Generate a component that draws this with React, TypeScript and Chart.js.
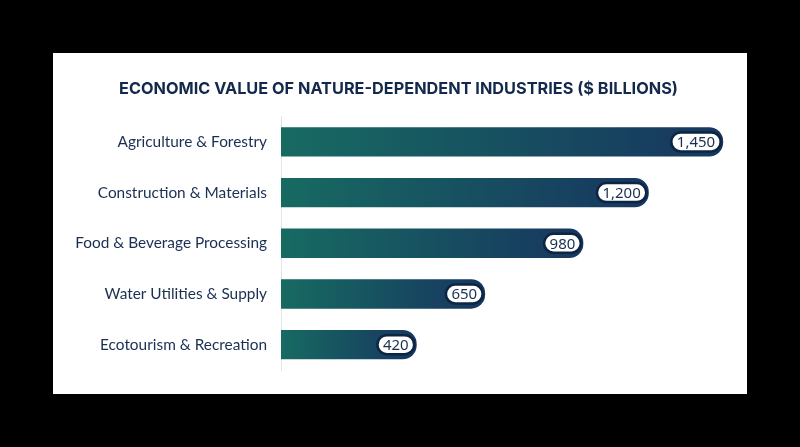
import React, { useEffect, useRef } from "react";
import { Chart, registerables } from "chart.js";

Chart.register(...registerables);

const titleText = "ECONOMIC VALUE OF NATURE-DEPENDENT INDUSTRIES ($ BILLIONS)";
const categories = [
  "Agriculture & Forestry",
  "Construction & Materials",
  "Food & Beverage Processing",
  "Water Utilities & Supply",
  "Ecotourism & Recreation",
];
const values = [1450, 1200, 980, 650, 420];
const xMin = -36;
const xMax = 1520;

const TEAL = "#176a62";
const NAVY = "#17365f";
const TEXT = "#1a2f52";

const pillPlugin = {
  id: "pillLabels",
  afterDatasetsDraw(chart: any) {
    const ctx = chart.ctx;
    const meta = chart.getDatasetMeta(0);
    ctx.save();
    ctx.font = "15px 'Noto Sans'";
    meta.data.forEach((el: any, i: number) => {
      const label = values[i].toLocaleString("en-US");
      const tw = ctx.measureText(label).width;
      const h = 19;
      const w = tw + 11;
      const right = el.x - 2.5;
      const left = right - w;
      const top = el.y - h / 2;
      const r = h / 2;
      ctx.beginPath();
      ctx.moveTo(left + r, top);
      ctx.lineTo(right - r, top);
      ctx.arc(right - r, top + r, r, -Math.PI / 2, Math.PI / 2);
      ctx.lineTo(left + r, top + h);
      ctx.arc(left + r, top + r, r, Math.PI / 2, (3 * Math.PI) / 2);
      ctx.closePath();
      ctx.fillStyle = "#ffffff";
      ctx.fill();
      ctx.lineWidth = 2.5;
      ctx.strokeStyle = "#0d2544";
      ctx.stroke();
      ctx.fillStyle = TEXT;
      ctx.textAlign = "center";
      ctx.textBaseline = "middle";
      ctx.fillText(label, left + w / 2, el.y + 1);
    });
    ctx.restore();
  },
};

export default function App() {
  const ref = useRef<HTMLCanvasElement | null>(null);
  useEffect(() => {
    if (!ref.current) return;
    const chart = new Chart(ref.current, {
      type: "bar",
      data: {
        labels: categories,
        datasets: [
          {
            data: values,
            base: xMin,
            backgroundColor: (c: any) => {
              const ch = c.chart;
              const xs = ch.scales && ch.scales.x;
              if (!xs || c.dataIndex === undefined) return NAVY;
              const x0 = xs.getPixelForValue(xMin);
              const x1 = xs.getPixelForValue(values[c.dataIndex]);
              if (!isFinite(x0) || !isFinite(x1) || x1 <= x0) return NAVY;
              const g = ch.ctx.createLinearGradient(x0, 0, x1, 0);
              g.addColorStop(0, TEAL);
              g.addColorStop(1, NAVY);
              return g;
            },
            borderRadius: 14,
            borderSkipped: "start",
            barPercentage: 0.58,
            categoryPercentage: 1,
          },
        ],
      },
      options: {
        indexAxis: "y",
        animation: false,
        responsive: false,
        maintainAspectRatio: false,
        layout: { padding: { top: 0, right: 3, bottom: 24, left: 0 } },
        plugins: {
          legend: { display: false },
          tooltip: { enabled: false },
          title: {
            display: true,
            text: titleText,
            color: "#13294b",
            font: { family: "Inter", size: 16.3, weight: "bold" },
            padding: { top: 26, bottom: 18 },
          },
        },
        scales: {
          x: { display: false, min: xMin, max: xMax },
          y: {
            grid: { display: false, drawTicks: false },
            border: { display: true, color: "#e3e5e8", width: 1 },
            ticks: {
              color: TEXT,
              font: { family: "Lato", size: 15.4 },
              padding: 14,
            },
            afterFit: (s: any) => {
              s.width = 228;
            },
          },
        },
      },
      plugins: [pillPlugin],
    } as any);
    return () => chart.destroy();
  }, []);

  return (
    <div style={{ position: "fixed", left: 0, top: 0, width: 800, height: 447, background: "#000" }}>
      <div
        style={{
          position: "absolute",
          left: 53,
          top: 53,
          width: 694,
          height: 341,
          background: "#fff",
        }}
      >
        <canvas ref={ref} width={694} height={341} style={{ display: "block" }} />
      </div>
    </div>
  );
}
